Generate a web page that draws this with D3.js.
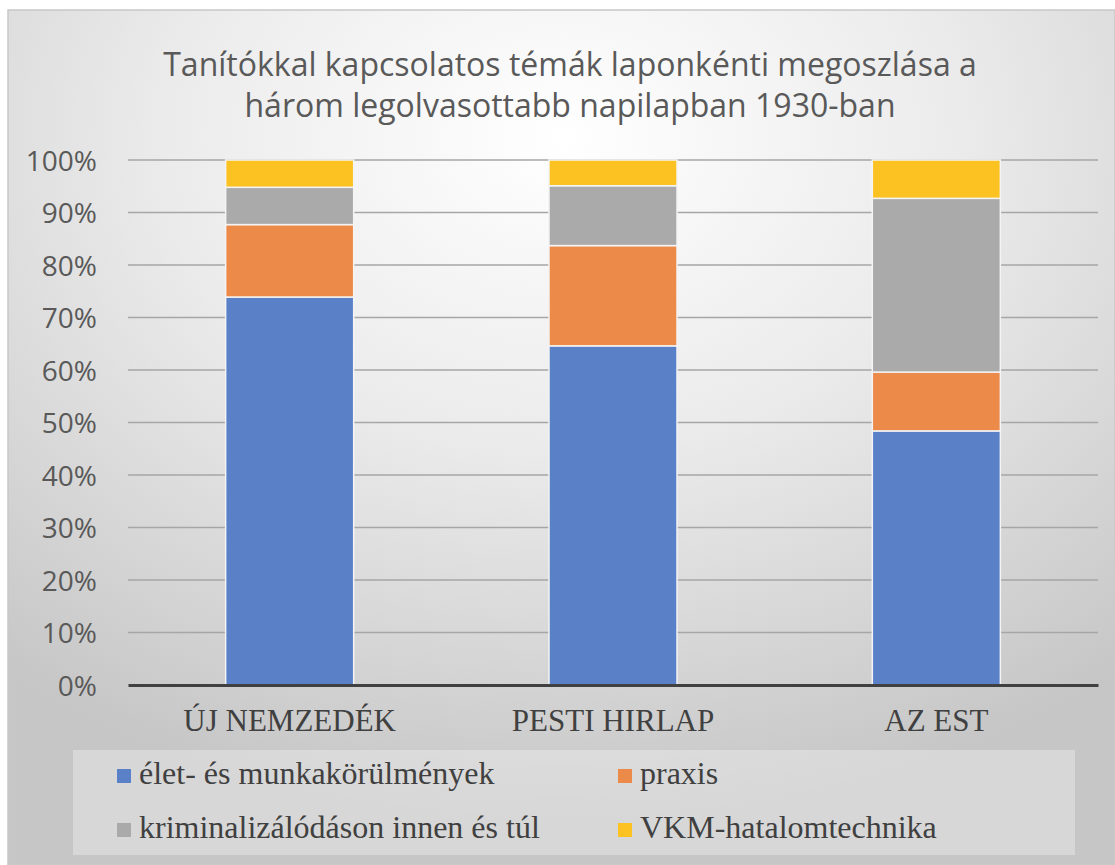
<!DOCTYPE html>
<html>
<head>
<meta charset="utf-8">
<script src="https://cdn.jsdelivr.net/npm/d3@7"></script>
<style>
  body { margin: 0; background: #fff; }
</style>
</head>
<body>
<div id="canvas"></div>
<script>
const categories = ['ÚJ NEMZEDÉK', 'PESTI HIRLAP', 'AZ EST']
const series = ['élet- és munkakörülmények', 'praxis', 'kriminalizálódáson innen és túl', 'VKM-hatalomtechnika']
// share of each topic per paper, in %
const elet = [73.9, 64.6, 48.4]
const praxis = [13.8, 19.1, 11.2]
const krim = [7.1, 11.4, 33.1]
const vkm = [5.2, 4.9, 7.3]
const yTicks = [0, 10, 20, 30, 40, 50, 60, 70, 80, 90, 100]
const titleLines = ['Tanítókkal kapcsolatos témák laponkénti megoszlása a', 'három legolvasottabb napilapban 1930-ban']

const colors = ['#5a80c8', '#ec8a4a', '#aaaaaa', '#fcc221']

const width = 1115
const height = 865
const margin = {top: 160, left: 128, right: 17, bottom: 180}

const rows = categories.map((c, i) => ({cat: c, s0: elet[i], s1: praxis[i], s2: krim[i], s3: vkm[i]}))
const stack = d3.stack().keys(['s0', 's1', 's2', 's3'])(rows)

const svg = d3.select('#canvas')
            .append('svg')
            .attr('width', width)
            .attr('height', height)

const defs = svg.append('defs')
const grad = defs.append('radialGradient')
            .attr('id', 'bg')
            .attr('cx', '50%').attr('cy', '15%')
            .attr('r', '80%')
grad.append('stop').attr('offset', '0%').attr('stop-color', '#ffffff')
grad.append('stop').attr('offset', '45%').attr('stop-color', '#ebebeb')
grad.append('stop').attr('offset', '100%').attr('stop-color', '#c6c6c6')

// chart area
svg.append('rect')
    .attr('x', 8).attr('y', 10)
    .attr('width', width - 8).attr('height', height - 10)
    .attr('fill', 'url(#bg)')
    .attr('stroke', '#c8c8c8')
    .attr('stroke-width', 1.5)

// title
svg.append('g').selectAll('text')
    .data(titleLines).enter()
    .append('text')
    .text(d => d)
    .attr('x', 570)
    .attr('y', (d, i) => 76 + i * 41)
    .attr('text-anchor', 'middle')
    .attr('font-family', 'Open Sans, sans-serif')
    .attr('font-size', 32)
    .attr('fill', '#595959')

const x = d3.scaleBand()
        .domain(categories)
        .range([margin.left, width - margin.right])
const barW = x.bandwidth() * 0.396

const y = d3.scaleLinear()
        .domain([0, 100])
        .range([height - margin.bottom, margin.top])

// gridlines
svg.append('g')
    .selectAll('line')
    .data(yTicks.slice(1)).enter()
    .append('line')
    .attr('x1', margin.left).attr('x2', width - margin.right)
    .attr('y1', d => y(d)).attr('y2', d => y(d))
    .attr('stroke', '#a6a6a6')
    .attr('stroke-width', 1.5)

// y axis labels
const yAxis = svg.append('g')
            .attr('transform', `translate(${margin.left}, 0)`)
            .call(d3.axisLeft(y).tickValues(yTicks).tickFormat(d => d + '%').tickSize(0).tickPadding(31))
yAxis.select('.domain').remove()
yAxis.selectAll('text')
    .attr('font-family', 'Open Sans, sans-serif')
    .attr('font-size', 28)
    .attr('fill', '#595959')
    .attr('dy', '0.36em')

// bars
svg.append('g').selectAll('g')
    .data(stack).enter()
    .append('g')
    .attr('fill', (d, i) => colors[i])
    .selectAll('rect')
    .data(d => d).enter()
    .append('rect')
    .attr('x', d => x(d.data.cat) + (x.bandwidth() - barW) / 2)
    .attr('y', d => y(d[1]))
    .attr('width', barW)
    .attr('height', d => y(d[0]) - y(d[1]))
    .attr('stroke', '#f4f4f4')
    .attr('stroke-width', 1.5)

// x axis
const xAxis = svg.append('g')
            .attr('transform', `translate(0, ${height - margin.bottom})`)
            .call(d3.axisBottom(x).tickSize(0).tickPadding(24))
xAxis.select('.domain')
    .attr('stroke', '#404040')
    .attr('stroke-width', 3)
xAxis.selectAll('text')
    .attr('font-family', 'Liberation Serif, serif')
    .attr('font-size', 31)
    .attr('fill', '#404040')
    .attr('dy', '0.71em')

// legend
const legend = svg.append('g')
legend.append('rect')
    .attr('x', 73).attr('y', 750)
    .attr('width', 1002).attr('height', 105)
    .attr('fill', '#ffffff')
    .attr('fill-opacity', 0.3)

const items = legend.selectAll('g.item')
            .data(series).enter()
            .append('g')
            .attr('transform', (d, i) => `translate(${i % 2 ? 618 : 117}, ${i < 2 ? 769 : 823})`)
items.append('rect')
    .attr('width', 14).attr('height', 14)
    .attr('fill', (d, i) => colors[i])
items.append('text')
    .text(d => d)
    .attr('x', 22)
    .attr('y', 15)
    .attr('font-family', 'Liberation Serif, serif')
    .attr('font-size', 32)
    .attr('fill', '#404040')
</script>
</body>
</html>
